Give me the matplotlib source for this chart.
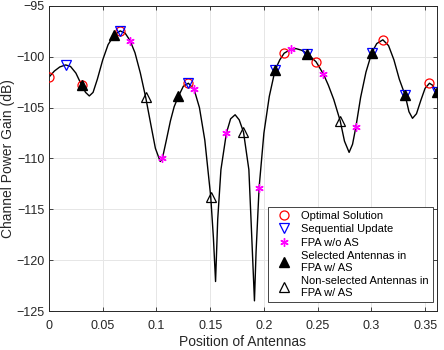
import matplotlib
matplotlib.use("Agg")
import matplotlib.pyplot as plt

plt.rcParams['font.family'] = ['Liberation Sans', 'DejaVu Sans']

# channel power gain curve
curve_x = [0.0, 0.005, 0.010, 0.0155, 0.020, 0.025, 0.0304, 0.034, 0.0375, 0.041,
           0.045, 0.050, 0.055, 0.0608, 0.0663, 0.071, 0.0754, 0.080, 0.085, 0.090,
           0.095, 0.099, 0.1035, 0.1055, 0.109, 0.113, 0.1165, 0.1204, 0.125, 0.1297,
           0.135, 0.140, 0.145, 0.1505, 0.153, 0.155, 0.157, 0.160, 0.1651, 0.169,
           0.1732, 0.177, 0.181, 0.186, 0.188, 0.1912, 0.1927, 0.1955, 0.200, 0.205,
           0.2104, 0.2148, 0.2188, 0.2253, 0.230, 0.235, 0.2405, 0.2486, 0.2554, 0.260,
           0.265, 0.271, 0.275, 0.2793, 0.2825, 0.2856, 0.290, 0.295, 0.3004, 0.305,
           0.3107, 0.316, 0.321, 0.326, 0.3315, 0.335, 0.3383, 0.342, 0.346, 0.350,
           0.3541, 0.357, 0.361]
curve_y = [-102.0, -101.4, -101.0, -100.8, -100.95, -101.6, -102.8, -103.5, -103.85, -103.5,
           -102.2, -100.3, -98.8, -97.85, -97.45, -97.7, -98.4, -99.6, -101.6, -104.0,
           -106.8, -109.0, -110.3, -110.0, -108.3, -106.3, -104.9, -103.9, -102.9, -102.6,
           -103.2, -105.0, -108.2, -113.75, -117.8, -122.1, -116.0, -111.1, -107.5, -106.1,
           -105.7, -106.2, -107.4, -111.1, -116.0, -124.0, -119.2, -112.9, -107.5, -103.9,
           -101.3, -100.3, -99.65, -99.25, -99.2, -99.35, -99.7, -100.5, -101.7, -102.8,
           -104.2, -106.3, -108.3, -109.4, -108.6, -106.9, -104.0, -101.5, -99.6, -98.7,
           -98.33, -98.9, -100.3, -102.2, -103.8, -105.4, -106.05, -105.6, -104.3, -103.1,
           -102.6, -102.8, -103.5]

opt_x = [0.0, 0.0304, 0.0663, 0.1297, 0.2188, 0.2486, 0.3107, 0.3541]
opt_y = [-102.0, -102.8, -97.45, -102.6, -99.65, -100.5, -98.33, -102.6]

seq_x = [0.0155, 0.0663, 0.1297, 0.2104, 0.2405, 0.3004, 0.3315, 0.361]
seq_y = [-100.8, -97.45, -102.6, -101.3, -99.7, -99.6, -103.8, -103.5]

fpa_x = [0.0754, 0.1055, 0.135, 0.1651, 0.1955, 0.2253, 0.2554, 0.2856]
fpa_y = [-98.4, -110.0, -103.2, -107.5, -112.9, -99.25, -101.7, -106.9]

sel_x = [0.0304, 0.0608, 0.1204, 0.2104, 0.2405, 0.3004, 0.3315, 0.361]
sel_y = [-102.8, -97.85, -103.9, -101.3, -99.7, -99.6, -103.8, -103.5]

nonsel_x = [0.090, 0.1505, 0.181, 0.271]
nonsel_y = [-104.0, -113.75, -107.4, -106.3]

x_ticks = [0, 0.05, 0.1, 0.15, 0.2, 0.25, 0.3, 0.35]
x_tick_labels = ['0', '0.05', '0.1', '0.15', '0.2', '0.25', '0.3', '0.35']
y_ticks = [-125, -120, -115, -110, -105, -100, -95]

fig = plt.figure(figsize=(4.44, 3.5), dpi=100)
ax = fig.add_axes([0.1104, 0.1114, 0.8736, 0.8716])

ax.plot(curve_x, curve_y, color='black', lw=1.0, zorder=2)
ax.plot(opt_x, opt_y, 'o', color='red', mfc='none', ms=6.5, mew=0.9,
        label='Optimal Solution', zorder=3)
ax.plot(seq_x, seq_y, 'v', color='blue', mfc='none', ms=7.5, mew=0.9,
        label='Sequential Update', zorder=4)
ax.plot(fpa_x, fpa_y, ls='none', marker=(6, 2, 0), color='magenta', ms=6, mew=1.0,
        label='FPA w/o AS', zorder=5)
ax.plot(sel_x, sel_y, '^', color='black', ms=6.5,
        label='Selected Antennas in\nFPA w/ AS', zorder=6)
ax.plot(nonsel_x, nonsel_y, '^', color='black', mfc='none', ms=6.5, mew=0.9,
        label='Non-selected Antennas in\nFPA w/ AS', zorder=6)

ax.set_xlim(0, 0.361)
ax.set_ylim(-125, -95)
ax.set_xticks(x_ticks)
ax.set_xticklabels(x_tick_labels)
ax.set_yticks(y_ticks)
ax.tick_params(direction='in', top=True, right=True, labelsize=9,
               colors='#262626', length=3, width=0.6)
ax.tick_params(axis='x', pad=6.5)
ax.tick_params(axis='y', pad=3)
ax.grid(True, color='#e6e6e6', lw=0.7)
ax.set_axisbelow(True)
for s in ax.spines.values():
    s.set_color('#262626')
    s.set_linewidth(0.7)

ax.set_xlabel('Position of Antennas', fontsize=10, color='#262626', labelpad=2)
ax.set_ylabel('Channel Power Gain (dB)', fontsize=10, color='#262626', labelpad=1)

leg = ax.legend(loc='lower right', bbox_to_anchor=(0.990, 0.0295), borderaxespad=0,
                fontsize=8, fancybox=False, framealpha=1, edgecolor='#262626',
                labelspacing=0.3, handletextpad=0.5, borderpad=0.4, handlelength=2.1)
leg.get_frame().set_linewidth(0.6)

fig.savefig('out.png', dpi=100)
